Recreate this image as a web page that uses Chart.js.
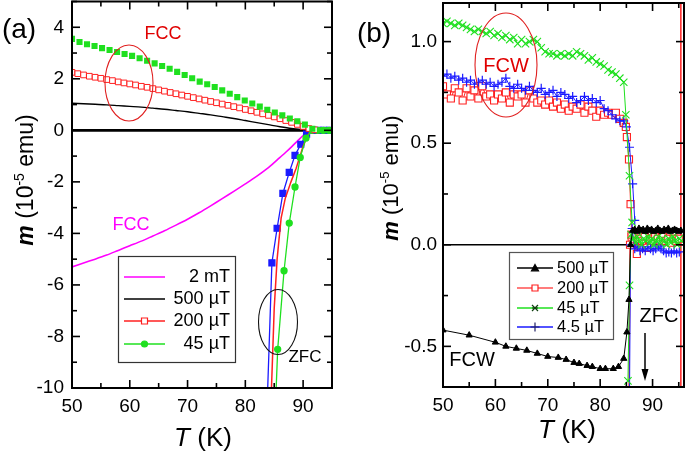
<!DOCTYPE html>
<html><head><meta charset="utf-8">
<script src="https://cdn.jsdelivr.net/npm/chart.js@4.4.0/dist/chart.umd.min.js"></script>
<style>
html,body{margin:0;padding:0;background:#fff;}
#wrap{position:relative;width:685px;height:455px;overflow:hidden;background:#fff;}
canvas{position:absolute;top:0;}
#ca{left:0;} #cb{left:340px;}
</style></head><body>
<div id="wrap"><canvas id="ca" width="340" height="455"></canvas><canvas id="cb" width="345" height="455"></canvas></div>
<script>
// ================= Panel (a) data =================
const aXTicks = [50,55,60,65,70,75,80,85,90,95];
const aYTicks = [-10,-9,-8,-7,-6,-5,-4,-3,-2,-1,0,1,2,3,4,5];
// FCC 45 uT (green filled squares)
const aT_fcc45 = [50,51.3,52.6,53.9,55.2,56.5,57.8,59.1,60.4,61.7,63.0,64.3,65.6,66.9,68.2,69.5,70.8,72.1,73.4,74.7,76.0,77.3,78.6,79.9,81.2,82.5,83.8,85.1,86.4,87.7,89.0,90.3,91.6,92.9,94.2];
const aM_fcc45 = [3.55,3.43,3.34,3.27,3.19,3.12,3.04,2.96,2.89,2.80,2.70,2.60,2.50,2.39,2.27,2.15,2.02,1.89,1.79,1.68,1.55,1.42,1.29,1.16,1.04,0.92,0.80,0.69,0.58,0.46,0.35,0.22,0.06,0.0,0.0];
// FCC 200 uT (red open squares)
const aT_fcc200 = [50,51,52,53,54,55,56,57,58,59,60,61,62,63,64,65,66,67,68,69,70,71,72,73,74,75,76,77,78,79,80,81,82,83,84,85,86,87,88,89,90,91,92];
const aM_fcc200 = [2.25,2.20,2.15,2.10,2.06,2.02,1.97,1.93,1.88,1.84,1.80,1.76,1.71,1.67,1.62,1.57,1.52,1.47,1.42,1.37,1.32,1.27,1.22,1.17,1.12,1.07,1.02,0.97,0.92,0.87,0.81,0.76,0.70,0.64,0.58,0.52,0.45,0.38,0.31,0.23,0.15,0.07,0.02];
// FCC 500 uT (black line)
const aT_fcc500 = [50,52,54,56,58,60,62,64,66,68,70,72,74,76,78,80,82,84,86,88,90,91];
const aM_fcc500 = [1.05,1.03,1.01,0.99,0.96,0.93,0.90,0.86,0.82,0.77,0.72,0.66,0.60,0.53,0.46,0.38,0.30,0.22,0.14,0.07,0.02,0.0];
// FCC 2 mT (magenta line)
const aT_fcc2mT = [50,52,54,56,58,60,62,64,66,68,70,72,74,76,78,80,82,84,86,87,88,89,90,91,92];
const aM_fcc2mT = [-5.30,-5.15,-5.00,-4.84,-4.66,-4.48,-4.30,-4.10,-3.90,-3.68,-3.45,-3.20,-2.93,-2.65,-2.37,-2.08,-1.78,-1.45,-1.05,-0.85,-0.64,-0.42,-0.2,-0.03,0.0];
// ZFC curves
const aT_zfcBlue = [83.8,84.6,85.5,86.5,87.6,88.6,89.6,90.6,91.6,92.6,93.6,94.6];
const aM_zfcBlue = [-10.5,-5.14,-3.8,-2.45,-1.63,-0.97,-0.54,-0.15,0.0,0.0,0.0,0.0];
const aT_zfc200 = [84.45,85.0,85.5,85.8,86.2,86.9,87.9,88.8,90.0,90.8,91.5,95];
const aM_zfc200 = [-10.5,-6.9,-5.0,-4.3,-3.4,-2.65,-2.0,-1.47,-0.62,-0.2,0.0,0.0];
const aT_zfc45 = [85.25,85.6,86.7,87.6,88.6,89.5,90.5,91.5,92.5,93.5,94.5];
const aM_zfc45 = [-10.5,-8.5,-5.45,-3.6,-2.2,-1.05,-0.3,0.0,0.0,0.0,0.0];
const aT_zero = [50,92];
const aM_zero = [0,0];

// ================= Panel (b) data =================
const bXTicks = [50,55,60,65,70,75,80,85,90,95];
const bYTicks = [-0.5,-0.25,0,0.25,0.5,0.75,1.0];
const bT_fcw = [50,50.75,51.5,52.25,53,53.75,54.5,55.25,56,56.75,57.5,58.25,59,59.75,60.5,61.25,62,62.75,63.5,64.25,65,65.75,66.5,67.25,68,68.75,69.5,70.25,71,71.75,72.5,73.25,74,74.75,75.5,76.25,77,77.75,78.5,79.25,80,80.75,81.5,82.25,83,83.75,84.5];
const bM_fcw45 = [1.09,1.10,1.09,1.08,1.09,1.08,1.07,1.06,1.05,1.06,1.05,1.04,1.05,1.03,1.04,1.02,1.03,1.01,1.02,0.99,1.01,0.99,1.00,1.01,1.00,0.97,0.95,0.94,0.94,0.93,0.94,0.93,0.94,0.93,0.95,0.94,0.93,0.91,0.92,0.90,0.89,0.88,0.86,0.85,0.84,0.82,0.80];
const bM_fcw200 = [0.78,0.74,0.72,0.77,0.75,0.71,0.77,0.73,0.76,0.72,0.78,0.73,0.74,0.71,0.74,0.72,0.75,0.70,0.74,0.73,0.74,0.70,0.76,0.72,0.70,0.71,0.69,0.71,0.68,0.70,0.67,0.69,0.66,0.68,0.67,0.69,0.65,0.68,0.66,0.63,0.66,0.64,0.65,0.64,0.65,0.62,0.60];
const bM_fcw4_5 = [0.83,0.84,0.82,0.83,0.81,0.82,0.80,0.81,0.79,0.80,0.81,0.79,0.80,0.78,0.79,0.80,0.82,0.78,0.77,0.79,0.77,0.76,0.78,0.76,0.75,0.77,0.74,0.75,0.76,0.73,0.75,0.74,0.72,0.73,0.70,0.71,0.73,0.71,0.72,0.70,0.71,0.67,0.66,0.64,0.62,0.61,0.61];
// transition ends of FCW curves
const bT_tail45 = [84.9,85.6,86.1];
const bM_tail45 = [0.64,0.34,0.11];
const bT_tail200 = [84.9,85.1,85.5,85.8,86.0];
const bM_tail200 = [0.58,0.53,0.42,0.20,0.05];
const bT_tail4_5 = [85.0,85.6,86.2,86.6];
const bM_tail4_5 = [0.58,0.48,0.30,0.12];
// 500 uT (black triangles)
const bT_500 = [50,55,60,62,64,66,68,70,72,73.5,75,76,77.5,78.5,80,81,82.5,83.5,84.5,85.1,85.5,85.8,86.2,86.6,87,87.4,87.8,88.2,88.6,89,89.4,89.8,90.2,90.6,91,91.4,91.8,92.2,92.6,93,93.4,93.8,94.2,94.6,95,95.4];
const bM_500 = [-0.42,-0.445,-0.48,-0.50,-0.51,-0.52,-0.535,-0.55,-0.555,-0.565,-0.58,-0.585,-0.595,-0.60,-0.61,-0.61,-0.61,-0.60,-0.56,-0.43,-0.27,0.0,0.07,0.075,0.065,0.08,0.07,0.075,0.065,0.08,0.07,0.075,0.065,0.07,0.08,0.07,0.065,0.075,0.07,0.08,0.065,0.07,0.075,0.07,0.065,0.07];
// ZFC curves
const bT_zfc45 = [85.3,85.6,85.9,86.3,86.7,87.1,87.5,87.9,88.3,88.7,89.1,89.5,89.9,90.3,90.7,91.1,91.5,91.9,92.3,92.7,93.1,93.5,93.9,94.3,94.7,95.1,95.5];
const bM_zfc45 = [-0.67,-0.2,0.05,0.03,0.01,0.04,0.02,0.00,0.03,0.02,0.04,0.01,0.03,0.00,0.02,0.04,0.01,0.03,0.02,0.00,0.03,0.01,0.04,0.02,0.00,0.03,0.02];
const bT_zfc200 = [85.5,85.7,86.0,86.5,87.0,87.5,88.0,88.5,89.0,89.5,90.0,90.5,91.0,91.5,92.0,92.5,93.0,93.5,94.0,94.5,95.0];
const bM_zfc200 = [-0.75,0.0,0.04,0.03,-0.045,0.03,0.02,0.04,-0.015,0.03,0.02,0.04,0.03,0.02,0.04,0.02,0.03,0.01,0.03,0.02,0.03];
const bT_zfc4_5 = [85.6,85.8,86.1,86.6,87.1,87.6,88.1,88.6,89.1,89.6,90.1,90.6,91.1,91.6,92.1,92.6,93.1,93.6,94.1,94.6,95.1];
const bM_zfc4_5 = [-0.75,0.0,0.08,-0.02,-0.01,-0.03,-0.02,-0.03,-0.01,-0.02,-0.03,-0.02,-0.01,-0.02,-0.03,-0.04,-0.035,-0.04,-0.03,-0.04,-0.035];
const bT_edge200 = [95.4,95.4];
const bM_edge200 = [-0.8,1.3];
const bT_zero = [50,96];
const bM_zero = [0,0];

// ================= helpers =================
const FONT = "'Liberation Sans', Arial, Helvetica, sans-serif";
Chart.defaults.font.family = FONT;
Chart.defaults.color = '#000';
const pts = (xs, ys) => xs.map((x, i) => ({x: x, y: ys[i]}));
const F = (size, style) => (style ? style + ' ' : '') + size + 'px ' + FONT;
function seg(ctx,x1,y1,x2,y2){ctx.beginPath();ctx.moveTo(x1,y1);ctx.lineTo(x2,y2);ctx.stroke();}
function zeroPad(s){ s.paddingTop = 0; s.paddingBottom = 0; s.paddingLeft = 0; s.paddingRight = 0; }
function drawFrame(chart, majX, majY){
  const ctx = chart.ctx, a = chart.chartArea, xs = chart.scales.x, ys = chart.scales.y;
  ctx.save(); ctx.strokeStyle = '#000'; ctx.lineWidth = 1.6;
  xs.ticks.forEach(t => { const p = xs.getPixelForValue(t.value); const L = majX(t.value) ? 8 : 5;
    seg(ctx,p,a.bottom,p,a.bottom-L); seg(ctx,p,a.top,p,a.top+L); });
  ys.ticks.forEach(t => { const p = ys.getPixelForValue(t.value); const L = majY(t.value) ? 8 : 5;
    seg(ctx,a.left,p,a.left+L,p); seg(ctx,a.right,p,a.right-L,p); });
  ctx.lineWidth = 2; ctx.strokeRect(a.left, a.top, a.right-a.left, a.bottom-a.top);
  ctx.restore();
}
function runs(ctx, parts, cx, baseY){
  let w = 0; parts.forEach(p => { ctx.font = p[1]; w += ctx.measureText(p[0]).width; });
  let x = cx - w/2; ctx.textAlign = 'left'; ctx.textBaseline = 'alphabetic';
  parts.forEach(p => { ctx.font = p[1]; ctx.fillText(p[0], x, baseY + (p[2]||0)); x += ctx.measureText(p[0]).width; });
}
function text(ctx, s, x, y, font, color, align){
  ctx.font = font; ctx.fillStyle = color || '#000'; ctx.textAlign = align || 'center'; ctx.textBaseline = 'middle';
  ctx.fillText(s, x, y);
}
function ellipse(ctx, cx, cy, rx, ry, color){
  ctx.save(); ctx.strokeStyle = color; ctx.lineWidth = 1.1; ctx.beginPath(); ctx.ellipse(cx, cy, rx, ry, 0, 0, Math.PI*2); ctx.stroke(); ctx.restore();
}
function marker(ctx, style, x, y, r, stroke, fill){
  ctx.save(); ctx.strokeStyle = stroke; ctx.fillStyle = fill; ctx.lineWidth = 1.2; ctx.beginPath();
  if (style === 'rect') { ctx.rect(x-r, y-r, 2*r, 2*r); ctx.fill(); ctx.stroke(); }
  else if (style === 'circle') { ctx.arc(x, y, r, 0, Math.PI*2); ctx.fill(); ctx.stroke(); }
  else if (style === 'triangle') { ctx.moveTo(x, y-r); ctx.lineTo(x+r, y+r*0.8); ctx.lineTo(x-r, y+r*0.8); ctx.closePath(); ctx.fill(); ctx.stroke(); }
  else if (style === 'x') { ctx.moveTo(x-r,y-r); ctx.lineTo(x+r,y+r); ctx.moveTo(x+r,y-r); ctx.lineTo(x-r,y+r); ctx.moveTo(x-r,y); ctx.lineTo(x+r,y); ctx.stroke(); }
  else if (style === 'plus') { ctx.moveTo(x-r,y); ctx.lineTo(x+r,y); ctx.moveTo(x,y-r); ctx.lineTo(x,y+r); ctx.stroke(); }
  ctx.restore();
}
function legendRow(ctx, x1, x2, y, color, style, mStroke, mFill, r){
  ctx.save(); ctx.strokeStyle = color; ctx.lineWidth = 1.3; seg(ctx, x1, y, x2, y); ctx.restore();
  if (style) marker(ctx, style, (x1+x2)/2, y, r, mStroke, mFill);
}

const GREEN = '#1fe01f', RED = '#ff2020', BLUE = '#1a1aff', MAG = '#ff00ff';

// ================= Panel (a) chart =================
const plugA = { id: 'decoA', afterDraw(chart){
  drawFrame(chart, v => v % 10 === 0, v => v % 2 === 0);
  const ctx = chart.ctx; ctx.save();
  text(ctx, '(a)', 19, 30, F(28), '#000');
  runs(ctx, [['T', F(26,'italic')], [' (K)', F(26)]], 203, 446);
  ctx.save(); ctx.translate(25, 180); ctx.rotate(-Math.PI/2);
  runs(ctx, [['m', F(23,'italic bold')], [' (10', F(23)], ['-5', F(14), -9], [' emu)', F(23)]], 0, 8);
  ctx.restore();
  text(ctx, 'FCC', 163, 34, F(18), '#e00000');
  ellipse(ctx, 129, 83, 24, 38, '#e02020');
  text(ctx, 'FCC', 131, 225, F(18), MAG);
  ellipse(ctx, 278, 322, 19.5, 32.5, '#111');
  text(ctx, 'ZFC', 305, 357, F(17), '#000');
  // legend
  ctx.fillStyle = '#fff'; ctx.fillRect(118, 256, 117, 106);
  ctx.strokeStyle = '#333'; ctx.lineWidth = 1.2; ctx.strokeRect(118.5, 256.5, 117, 106);
  legendRow(ctx, 124, 165, 277, MAG);
  legendRow(ctx, 124, 165, 299, '#000');
  legendRow(ctx, 124, 165, 321, RED, 'rect', RED, '#fff', 3);
  legendRow(ctx, 124, 165, 344, GREEN, 'circle', GREEN, GREEN, 3);
  text(ctx, '2 mT', 230, 277, F(18), '#000', 'right');
  text(ctx, '500 µT', 230, 299, F(18), '#000', 'right');
  text(ctx, '200 µT', 230, 321, F(18), '#000', 'right');
  text(ctx, '45 µT', 230, 344, F(18), '#000', 'right');
  ctx.restore();
}};

new Chart(document.getElementById('ca'), {
  type: 'scatter',
  data: { datasets: [
    { data: pts(aT_fcc45, aM_fcc45), showLine: false, pointStyle: 'rect', pointRadius: 4.3, backgroundColor: GREEN, borderColor: GREEN, pointBorderWidth: 0 },
    { data: pts(aT_fcc200, aM_fcc200), showLine: false, pointStyle: 'rect', pointRadius: 4.0, backgroundColor: '#fff', borderColor: RED, pointBorderWidth: 1 },
    { data: pts(aT_zfc45, aM_zfc45), showLine: true, borderColor: GREEN, borderWidth: 1.3, pointStyle: 'circle', pointRadius: 3, backgroundColor: GREEN, pointBorderColor: GREEN },
    { data: pts(aT_zfc200, aM_zfc200), showLine: true, borderColor: RED, borderWidth: 1.5, pointRadius: 0 },
    { data: pts(aT_zfcBlue, aM_zfcBlue), showLine: true, borderColor: BLUE, borderWidth: 1.3, pointStyle: 'rect', pointRadius: 4.2, backgroundColor: BLUE, pointBorderColor: BLUE },
    { data: pts(aT_fcc2mT, aM_fcc2mT), showLine: true, borderColor: MAG, borderWidth: 1.6, pointRadius: 0, tension: 0.3 },
    { data: pts(aT_fcc500, aM_fcc500), showLine: true, borderColor: '#000', borderWidth: 1.4, pointRadius: 0, tension: 0.3 },
    { data: pts(aT_zero, aM_zero), showLine: true, borderColor: '#000', borderWidth: 2.6, pointRadius: 0 }
  ]},
  options: {
    responsive: false, animation: false, devicePixelRatio: 1,
    layout: { autoPadding: false, padding: { top: 1.5, right: 8, left: 0, bottom: 0 } },
    plugins: { legend: { display: false }, tooltip: { enabled: false } },
    scales: {
      x: { type: 'linear', min: 50, max: 95,
        afterBuildTicks: s => { s.ticks = aXTicks.map(v => ({ value: v })); },
        afterFit: s => { s.height = 67; zeroPad(s); },
        grid: { display: false, drawTicks: false }, border: { display: false },
        ticks: { font: { size: 19 }, padding: 7, maxRotation: 0, autoSkip: false, color: '#000',
          callback: v => (v % 10 === 0 ? String(v) : '') } },
      y: { type: 'linear', min: -10, max: 5,
        afterBuildTicks: s => { s.ticks = aYTicks.map(v => ({ value: v })); },
        afterFit: s => { s.width = 72; zeroPad(s); },
        grid: { display: false, drawTicks: false }, border: { display: false },
        ticks: { font: { size: 19 }, padding: 8, autoSkip: false, color: '#000',
          callback: v => (v % 2 === 0 ? String(v) : '') } }
    }
  },
  plugins: [plugA]
});

// ================= Panel (b) chart =================
const isHalf = v => Math.abs(v*2 - Math.round(v*2)) < 1e-9;
const plugB = { id: 'decoB', afterDraw(chart){
  drawFrame(chart, v => v % 10 === 0, isHalf);
  const ctx = chart.ctx; ctx.save();
  text(ctx, '(b)', 34, 34, F(28), '#000');
  runs(ctx, [['T', F(26,'italic')], [' (K)', F(26)]], 227, 438);
  ctx.save(); ctx.translate(50, 178); ctx.rotate(-Math.PI/2);
  runs(ctx, [['m', F(22,'italic bold')], [' (10', F(22)], ['-5', F(13), -9], [' emu)', F(22)]], 0, 8);
  ctx.restore();
  ellipse(ctx, 166, 65, 31, 52, '#e02020');
  text(ctx, 'FCW', 166, 66, F(20), '#e00000');
  text(ctx, 'FCW', 132, 360, F(20), '#000');
  text(ctx, 'ZFC', 319, 316, F(20), '#000');
  // arrow
  ctx.strokeStyle = '#000'; ctx.fillStyle = '#000'; ctx.lineWidth = 1.5;
  seg(ctx, 305, 333, 305, 372);
  ctx.beginPath(); ctx.moveTo(305, 381); ctx.lineTo(301.5, 369); ctx.lineTo(308.5, 369); ctx.closePath(); ctx.fill();
  // legend
  ctx.fillStyle = '#fff'; ctx.fillRect(169, 252, 104, 87);
  ctx.strokeStyle = '#555'; ctx.lineWidth = 1.2; ctx.strokeRect(169.5, 252.5, 104, 87);
  legendRow(ctx, 177, 213, 268, '#000', 'triangle', '#000', '#000', 3.5);
  legendRow(ctx, 177, 213, 288, '#ff5050', 'rect', RED, '#fff', 3);
  legendRow(ctx, 177, 213, 308, GREEN, 'x', '#104010', '#104010', 3);
  legendRow(ctx, 177, 213, 327, BLUE, 'plus', '#222266', '#222266', 4.5);
  text(ctx, '500 µT', 217, 268, F(16.5), '#000', 'left');
  text(ctx, '200 µT', 217, 288, F(16.5), '#000', 'left');
  text(ctx, '45 µT', 217, 308, F(16.5), '#000', 'left');
  text(ctx, '4.5 µT', 217, 327, F(16.5), '#000', 'left');
  ctx.restore();
}};

new Chart(document.getElementById('cb'), {
  type: 'scatter',
  data: { datasets: [
    { data: pts(bT_500, bM_500), showLine: true, borderColor: '#000', borderWidth: 1, pointStyle: 'triangle', pointRadius: 3.6, backgroundColor: '#000', pointBorderColor: '#000' },
    { data: pts(bT_fcw.concat(bT_tail45), bM_fcw45.concat(bM_tail45)), showLine: true, borderColor: GREEN, borderWidth: 1, pointStyle: 'crossRot', pointRadius: 5.2, pointBorderColor: GREEN, pointBorderWidth: 1.1 },
    { data: pts(bT_zfc45, bM_zfc45), showLine: true, borderColor: GREEN, borderWidth: 1, pointStyle: 'crossRot', pointRadius: 5.2, pointBorderColor: GREEN, pointBorderWidth: 1.1 },
    { data: pts(bT_fcw.concat(bT_tail4_5), bM_fcw4_5.concat(bM_tail4_5)), showLine: true, borderColor: BLUE, borderWidth: 1, pointStyle: 'cross', pointRadius: 4.5, pointBorderColor: BLUE, pointBorderWidth: 1.2 },
    { data: pts(bT_zfc4_5, bM_zfc4_5), showLine: true, borderColor: BLUE, borderWidth: 1, pointStyle: 'cross', pointRadius: 4.5, pointBorderColor: BLUE, pointBorderWidth: 1.2 },
    { data: pts(bT_fcw.concat(bT_tail200), bM_fcw200.concat(bM_tail200)), showLine: true, borderColor: RED, borderWidth: 1, pointStyle: 'rect', pointRadius: 5, backgroundColor: '#fff', pointBorderColor: RED, pointBorderWidth: 1.1 },
    { data: pts(bT_zfc200, bM_zfc200), showLine: true, borderColor: RED, borderWidth: 1.3, pointStyle: 'rect', pointRadius: 5, backgroundColor: '#fff', pointBorderColor: RED, pointBorderWidth: 1.1 },
    { data: pts(bT_edge200, bM_edge200), showLine: true, borderColor: RED, borderWidth: 1.5, pointRadius: 0 },
    { data: pts(bT_zero, bM_zero), showLine: true, borderColor: '#000', borderWidth: 1.6, pointRadius: 0 }
  ]},
  options: {
    responsive: false, animation: false, devicePixelRatio: 1,
    layout: { autoPadding: false, padding: { top: 3, right: 1, left: 0, bottom: 0 } },
    plugins: { legend: { display: false }, tooltip: { enabled: false } },
    scales: {
      x: { type: 'linear', min: 50, max: 96,
        afterBuildTicks: s => { s.ticks = bXTicks.map(v => ({ value: v })); },
        afterFit: s => { s.height = 68; zeroPad(s); },
        grid: { display: false, drawTicks: false }, border: { display: false },
        ticks: { font: { size: 19 }, padding: 7, maxRotation: 0, autoSkip: false, color: '#000',
          callback: v => (v % 10 === 0 ? String(v) : '') } },
      y: { type: 'linear', min: -0.7, max: 1.19,
        afterBuildTicks: s => { s.ticks = bYTicks.map(v => ({ value: v })); },
        afterFit: s => { s.width = 103; zeroPad(s); },
        grid: { display: false, drawTicks: false }, border: { display: false },
        ticks: { font: { size: 19 }, padding: 6, autoSkip: false, color: '#000',
          callback: v => (isHalf(v) ? v.toFixed(1) : '') } }
    }
  },
  plugins: [plugB]
});
</script>
</body></html>
